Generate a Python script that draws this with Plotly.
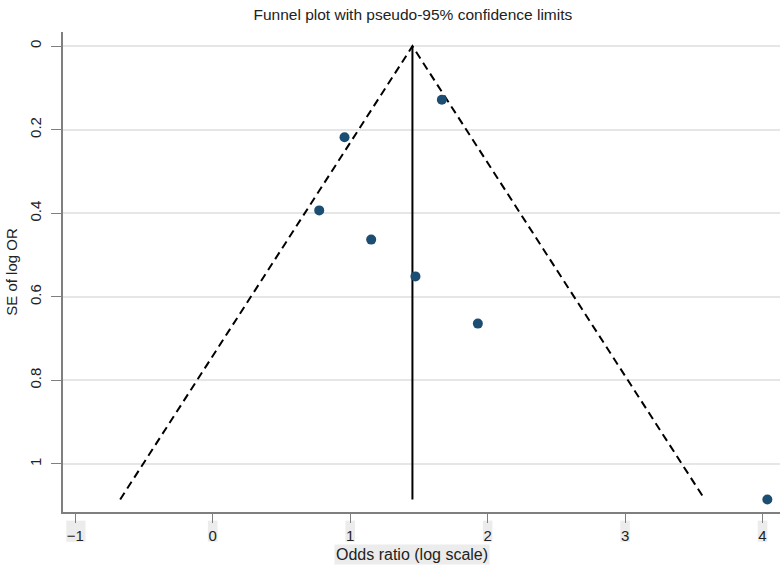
import plotly.graph_objects as go

# Study data (log odds ratio, standard error)
log_or = [1.667, 0.959, 0.775, 1.153, 1.475, 1.929, 4.035]
se_log_or = [0.128, 0.218, 0.393, 0.463, 0.551, 0.664, 1.085]

# Pooled estimate and pseudo-95% limits (endpoints)
pooled = 1.453
se_max = 1.085
funnel_x = [-0.673, pooled, 3.580]
funnel_y = [se_max, 0.0, se_max]

x_ticks = [-1, 0, 1, 2, 3, 4]
y_ticks = [0, 0.2, 0.4, 0.6, 0.8, 1]
y_tick_labels = ["0", "0.2", "0.4", "0.6", "0.8", "1"]

FONT = "Liberation Sans, Arial, sans-serif"

fig = go.Figure()

fig.add_trace(go.Scatter(
    x=funnel_x, y=funnel_y, mode="lines",
    line=dict(color="black", width=2, dash="8px,5px"),
    hoverinfo="skip", showlegend=False, cliponaxis=False,
))
fig.add_trace(go.Scatter(
    x=[pooled, pooled], y=[0.0, se_max], mode="lines",
    line=dict(color="black", width=2),
    hoverinfo="skip", showlegend=False, cliponaxis=False,
))
fig.add_trace(go.Scatter(
    x=log_or, y=se_log_or, mode="markers",
    marker=dict(color="#1b4e72", size=10),
    showlegend=False, cliponaxis=False,
))

# faint grey patches behind x tick labels
shapes = []
for t in x_ticks:
    half = 0.07 if t < 0 else 0.035
    off = 0.005 if t < 0 else 0.0
    shapes.append(dict(
        type="rect", xref="x", yref="paper",
        x0=t - half + off, x1=t + half + off, y0=-0.062, y1=-0.018,
        fillcolor="#ececec", line=dict(width=0), layer="below",
    ))

fig.update_layout(
    width=780, height=568,
    margin=dict(l=63, r=0, t=32, b=56),
    paper_bgcolor="white", plot_bgcolor="white",
    font=dict(family=FONT, size=15, color="#222"),
    shapes=shapes,
    title=dict(
        text="Funnel plot with pseudo-95% confidence limits",
        xref="paper", x=0.488, xanchor="center",
        yref="container", y=0.975, yanchor="middle",
        font=dict(size=15.5, color="#222"),
        automargin=False,
    ),
    xaxis=dict(
        range=[-1.089, 4.127],
        tickvals=x_ticks,
        showgrid=False, zeroline=False,
        showline=True, linecolor="#7f7f7f", linewidth=1.5,
        ticks="outside", ticklen=9, tickcolor="#7f7f7f", tickwidth=1,
        tickfont=dict(size=15, color="#222"),
        automargin=False,
    ),
    yaxis=dict(
        range=[1.115, -0.034],
        tickvals=y_ticks, ticktext=y_tick_labels,
        tickangle=-90,
        showgrid=True, gridcolor="#e6e6e6", gridwidth=1.5,
        zeroline=False,
        showline=True, linecolor="#7f7f7f", linewidth=1.5,
        ticks="outside", ticklen=10, tickcolor="#7f7f7f", tickwidth=1,
        ticklabelstandoff=4,
        tickfont=dict(size=15, color="#222"),
        title=dict(text="SE of log OR", font=dict(size=15, color="#222"), standoff=6),
        automargin=False,
    ),
    annotations=[dict(
        text="Odds ratio (log scale)", xref="x", yref="paper",
        x=pooled, y=-0.088,
        xanchor="center", yanchor="middle", showarrow=False,
        font=dict(size=16, color="#222"), bgcolor="#ececec",
        borderpad=1,
    )],
)

fig.write_html(
    "out.html",
    config={"displayModeBar": False},
    post_script="document.body.style.margin='0';document.body.style.overflow='hidden';",
)
